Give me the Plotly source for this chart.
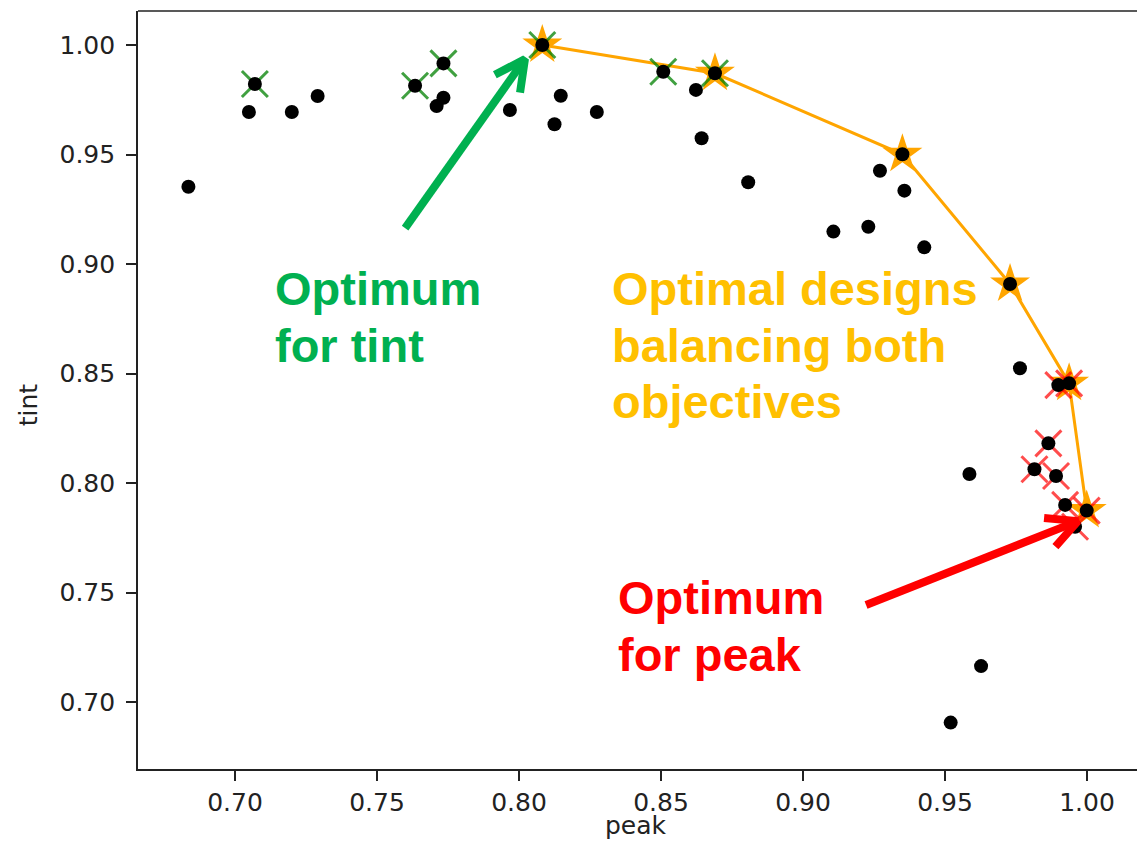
import numpy as np
import plotly.graph_objects as go

# Evaluated designs: normalised peak and tint scores
peak = [0.6836, 0.7049, 0.7070, 0.7200, 0.7291, 0.7634, 0.7710, 0.7734, 0.7734,
        0.7968, 0.8082, 0.8125, 0.8147, 0.8274, 0.8508, 0.8623, 0.8643, 0.8690,
        0.8807, 0.9107, 0.9230, 0.9271, 0.9350, 0.9357, 0.9427, 0.9520, 0.9586,
        0.9627, 0.9729, 0.9764, 0.9815, 0.9864, 0.9891, 0.9899, 0.9923, 0.9937,
        0.9958, 0.9999]
tint = [0.9353, 0.9694, 0.9822, 0.9694, 0.9767, 0.9814, 0.9721, 0.9759, 0.9916,
        0.9703, 1.0000, 0.9638, 0.9768, 0.9694, 0.9878, 0.9795, 0.9574, 0.9871,
        0.9373, 0.9148, 0.9170, 0.9426, 0.9501, 0.9335, 0.9076, 0.6906, 0.8041,
        0.7164, 0.8909, 0.8524, 0.8063, 0.8181, 0.8032, 0.8447, 0.7900, 0.8455,
        0.7800, 0.7874]

# Designs on the trade-off front (indices into the arrays above)
front_idx = [10, 17, 22, 28, 35, 37]

# How many best designs to flag for each objective
n_best_tint = 6
n_best_peak = 8

x_ticks = [0.70, 0.75, 0.80, 0.85, 0.90, 0.95, 1.00]
y_ticks = [0.70, 0.75, 0.80, 0.85, 0.90, 0.95, 1.00]

peak_a = np.array(peak)
tint_a = np.array(tint)
best_tint = np.argsort(-tint_a)[:n_best_tint]
best_peak = np.argsort(-peak_a)[:n_best_peak]
front = sorted(front_idx, key=lambda i: peak_a[i])

W, H = 1137, 841
ML, MR, MT, MB = 138, 0, 11, 72
X_RANGE = [0.665845, 1.017606]
Y_RANGE = [0.66941, 1.015525]
PW, PH = W - ML - MR, H - MT - MB
sx = PW / (X_RANGE[1] - X_RANGE[0])
sy = PH / (Y_RANGE[1] - Y_RANGE[0])

GREEN_TXT = "#00B050"
ORANGE_TXT = "#FFC000"
RED_TXT = "#FF0000"

fig = go.Figure()

# trade-off front
fig.add_trace(go.Scatter(
    x=peak_a[front], y=tint_a[front], mode="lines",
    line=dict(color="#FFA500", width=3), hoverinfo="skip", showlegend=False))
fig.add_trace(go.Scatter(
    x=peak_a[front], y=tint_a[front], mode="markers",
    marker=dict(symbol="star", size=30, color="#FFA500", line=dict(width=0)),
    showlegend=False))
# best-by-objective markers
fig.add_trace(go.Scatter(
    x=peak_a[best_tint], y=tint_a[best_tint], mode="markers",
    marker=dict(symbol="x-thin", size=26, color="rgba(0,128,0,0.75)",
                line=dict(width=3, color="rgba(0,128,0,0.75)")),
    showlegend=False))
fig.add_trace(go.Scatter(
    x=peak_a[best_peak], y=tint_a[best_peak], mode="markers",
    marker=dict(symbol="x-thin", size=26, color="rgba(255,0,0,0.7)",
                line=dict(width=3, color="rgba(255,0,0,0.7)")),
    showlegend=False))
# all designs
fig.add_trace(go.Scatter(
    x=peak, y=tint, mode="markers",
    marker=dict(symbol="circle", size=14, color="black", line=dict(width=0)),
    showlegend=False))


def arrow(tail, tip, color, head_len=34, half_angle=27, width=8):
    """Chevron-headed arrow drawn in data space with a pixel-sized head."""
    t = np.array([(tail[0] - X_RANGE[0]) * sx, (tail[1] - Y_RANGE[0]) * sy])
    p = np.array([(tip[0] - X_RANGE[0]) * sx, (tip[1] - Y_RANGE[0]) * sy])
    u = (t - p) / np.linalg.norm(t - p)
    pts = []
    for s in (1, -1):
        a = np.radians(half_angle) * s
        r = np.array([u[0] * np.cos(a) - u[1] * np.sin(a),
                      u[0] * np.sin(a) + u[1] * np.cos(a)])
        pts.append(p + head_len * r)

    def to_data(q):
        return (q[0] / sx + X_RANGE[0], q[1] / sy + Y_RANGE[0])

    a1, a2 = to_data(pts[0]), to_data(pts[1])
    xs = [tail[0], tip[0], None, a1[0], tip[0], a2[0]]
    ys = [tail[1], tip[1], None, a1[1], tip[1], a2[1]]
    fig.add_trace(go.Scatter(x=xs, y=ys, mode="lines",
                             line=dict(color=color, width=width),
                             hoverinfo="skip", showlegend=False))


arrow((0.7599, 0.9164), (0.8021, 0.9936), GREEN_TXT)
arrow((0.9222, 0.7443), (0.9968, 0.7826), RED_TXT)

label_font = "Liberation Sans, Arial, sans-serif"
lines = [
    ("Optimum", 0.7134, 0.8890, GREEN_TXT),
    ("for tint", 0.7134, 0.8630, GREEN_TXT),
    ("Optimal designs", 0.8320, 0.8890, ORANGE_TXT),
    ("balancing both", 0.8320, 0.8630, ORANGE_TXT),
    ("objectives", 0.8320, 0.8370, ORANGE_TXT),
    ("Optimum", 0.8342, 0.7479, RED_TXT),
    ("for peak", 0.8342, 0.7219, RED_TXT),
]
for text, x, y, c in lines:
    fig.add_annotation(x=x, y=y, xref="x", yref="y", text="<b>%s</b>" % text,
                       showarrow=False, xanchor="left", yanchor="middle",
                       font=dict(family=label_font, size=47, color=c))

axis_font = dict(family="DejaVu Sans, sans-serif", size=25, color="#222222")
fig.add_annotation(x=0.4985, y=-0.095, xref="paper", yref="paper", text="peak",
                   showarrow=False, xanchor="center", yanchor="bottom",
                   borderpad=0, font=axis_font)
fig.add_annotation(x=-0.110, y=0.480, xref="paper", yref="paper", text="tint",
                   textangle=-90, showarrow=False, xanchor="center", yanchor="middle",
                   font=axis_font)

# top spine
fig.add_shape(type="line", xref="paper", yref="paper", x0=0, x1=1, y0=1, y1=1,
              line=dict(color="#222222", width=1.6))

fig.update_layout(
    width=W, height=H,
    margin=dict(l=ML, r=MR, t=MT, b=MB, pad=0),
    paper_bgcolor="white", plot_bgcolor="white",
    xaxis=dict(range=X_RANGE, tickvals=x_ticks, ticktext=["%.2f" % v for v in x_ticks],
               showgrid=False, zeroline=False, showline=True, linecolor="#222222",
               linewidth=1.6, ticks="outside", ticklen=10, tickwidth=1.5,
               tickcolor="#222222", tickfont=axis_font),
    yaxis=dict(range=Y_RANGE, tickvals=y_ticks, ticktext=["%.2f" % v for v in y_ticks],
               showgrid=False, zeroline=False, showline=True, linecolor="#222222",
               linewidth=1.6, ticks="outside", ticklen=10, tickwidth=1.5,
               tickcolor="#222222", tickfont=axis_font, ticklabelstandoff=6),
)

fig.write_html("out.html")
